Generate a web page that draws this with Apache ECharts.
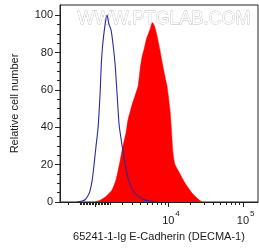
<!DOCTYPE html>
<html>
<head>
<meta charset="utf-8">
<script src="https://cdn.jsdelivr.net/npm/echarts@6/dist/echarts.min.js"></script>
<style>
    html, body { margin: 0; padding: 0; background: #fff; }
    #main { width: 259px; height: 251px; }
</style>
</head>
<body>
<div id="main"></div>
<script>
    // isotype control (blue line): fluorescence intensity / relative count
    var isoX = [-1240, -870, -660, -460, -330, -200, -65, 65, 200, 330, 390, 460, 600, 800, 940,
        1090, 1240, 1390, 1550, 1710, 1880, 2060, 2340, 2640, 3090, 3710, 4740, 6020, 7210];
    var isoY = [0, 0.5, 1.2, 3.5, 6, 11, 20, 30, 40, 58, 70, 80, 91, 100, 95,
        92, 84, 74, 58, 42, 34, 27, 18, 11, 6, 3, 1, 0.3, 0];

    // E-Cadherin stained (red filled)
    var ecadX = [0, 330, 730, 1160, 1470, 1800, 2060, 2340, 2540, 2750, 2970, 3330, 3710, 3980, 4270,
        4580, 4910, 5260, 5630, 6020, 6440, 6980, 7680, 8190, 9000, 9590, 10530, 10870, 11570, 12310,
        14390, 16280, 17870, 20850, 25090, 28380];
    var ecadY = [0, 1, 3, 6.4, 12, 22, 30, 37, 44, 48, 52, 57, 62, 71, 78,
        82, 87, 90, 93, 96, 94, 89, 81, 75, 67, 62, 49, 42, 26, 20,
        15, 11, 8.5, 4.8, 1.6, 0];

    var xMajor = [0, 10000, 100000];
    var xDecades = [10000, 100000];
    var xDecadeLabels = ['10', '10'];
    var xExpLabels = ['4', '5'];
    var xMinor = [-2000, -1000, -900, -800, -700, -600, -500, -400, -300, -200, -100,
        100, 200, 300, 400, 500, 600, 700, 800, 900, 1000,
        2000, 3000, 4000, 5000, 6000, 7000, 8000, 9000,
        20000, 30000, 40000, 50000, 60000, 70000, 80000, 90000];
    var yMajor = [0, 20, 40, 60, 80, 100];
    var yMinor = [5, 10, 15, 25, 30, 35, 45, 50, 55, 65, 70, 75, 85, 90, 95];

    // biexponential-like display transform (arcsinh)
    var C = 2128;
    function biex(v) {
        return Math.asinh(v / C) / Math.LN10;
    }
    var xMin = biex(-2760);
    var xMax = biex(158600);

    function pairs(xs, ys) {
        var out = [];
        for (let i = 0; i < xs.length; i++) {
            out.push([biex(xs[i]), ys[i]]);
        }
        return out;
    }

    // pick the label whose value is closest to the tick
    function nearestLabel(vals, labels, val) {
        let best = 0;
        for (let i = 0; i < vals.length; i++) {
            if (Math.abs(biex(vals[i]) - val) < Math.abs(biex(vals[best]) - val)) best = i;
        }
        return labels[best];
    }

    var chart = echarts.init(document.getElementById('main'), null, { renderer: 'canvas' });
    var txt = '#1a1a1a';
    var font = 'Liberation Sans, Arial, sans-serif';
    var tickStyle = { color: '#222', width: 1 };

    var option = {
        animation: false,
        textStyle: { fontFamily: font },
        grid: {
            left: 60, right: 1, top: 5, bottom: 49,
            show: true,
            borderColor: '#222',
            borderWidth: 1
        },
        graphic: [{
            type: 'text',
            left: 77,
            top: 10,
            z: -10,
            silent: true,
            style: {
                text: 'WWW.PTGLAB.COM',
                font: '18px Liberation Sans, Arial, sans-serif',
                fill: '#fff',
                stroke: '#bdbdbd',
                lineWidth: 0.8
            }
        }],
        xAxis: [{
            type: 'value',
            min: xMin,
            max: xMax,
            name: '65241-1-Ig E-Cadherin (DECMA-1)',
            nameLocation: 'middle',
            nameGap: 29,
            nameTextStyle: { fontSize: 11, color: txt, fontFamily: font },
            splitLine: { show: false },
            axisLine: { show: true, onZero: false, lineStyle: { color: '#222', width: 1 } },
            axisTick: { show: true, length: 5, customValues: xMajor.map(biex), lineStyle: tickStyle },
            axisLabel: {
                customValues: xDecades.map(biex),
                margin: 13,
                fontSize: 11,
                color: txt,
                formatter: function (val) {
                    return nearestLabel(xDecades, xDecadeLabels, val);
                }
            }
        }, {
            // minor ticks + exponents of the decade labels
            type: 'value',
            min: xMin,
            max: xMax,
            position: 'bottom',
            splitLine: { show: false },
            axisLine: { show: false, onZero: false },
            axisTick: { show: true, length: 3, customValues: xMinor.map(biex), lineStyle: tickStyle },
            axisLabel: {
                customValues: xDecades.map(biex),
                margin: 8,
                fontSize: 8,
                color: txt,
                align: 'left',
                padding: [0, 0, 0, 7],
                formatter: function (val) {
                    return nearestLabel(xDecades, xExpLabels, val);
                }
            }
        }],
        yAxis: [{
            type: 'value',
            min: 0,
            max: 105.4,
            name: 'Relative cell number',
            nameLocation: 'middle',
            nameGap: 40,
            nameTextStyle: { fontSize: 11, color: txt, fontFamily: font },
            splitLine: { show: false },
            axisLine: { show: true, onZero: false, lineStyle: { color: '#222', width: 1 } },
            axisTick: { show: true, length: 5, customValues: yMajor, lineStyle: tickStyle },
            axisLabel: { customValues: yMajor, showMinLabel: true, margin: 7, fontSize: 11, color: txt }
        }, {
            type: 'value',
            min: 0,
            max: 105.4,
            position: 'left',
            splitLine: { show: false },
            axisLine: { show: false, onZero: false },
            axisLabel: { show: false },
            axisTick: { show: true, length: 3, customValues: yMinor, lineStyle: tickStyle }
        }],
        series: [{
            name: 'E-Cadherin',
            type: 'line',
            data: pairs(ecadX, ecadY),
            symbol: 'none',
            smooth: 0.2,
            lineStyle: { width: 0.5, color: '#ff0000' },
            areaStyle: { color: '#ff0000', opacity: 1 },
            z: 2
        }, {
            name: 'Isotype',
            type: 'line',
            data: pairs(isoX, isoY),
            symbol: 'none',
            smooth: 0.3,
            lineStyle: { width: 1.1, color: '#2a2a9c' },
            z: 3
        }, {
            // "0" tick label of the biexponential axis
            name: 'zeroLabel',
            type: 'scatter',
            data: [[biex(0), 0]],
            symbolSize: 1,
            itemStyle: { opacity: 0 },
            clip: false,
            silent: true,
            label: {
                show: true,
                position: 'bottom',
                distance: 12,
                formatter: '0',
                fontSize: 11,
                color: txt,
                fontFamily: font
            },
            z: 4
        }]
    };

    chart.setOption(option);
</script>
</body>
</html>
